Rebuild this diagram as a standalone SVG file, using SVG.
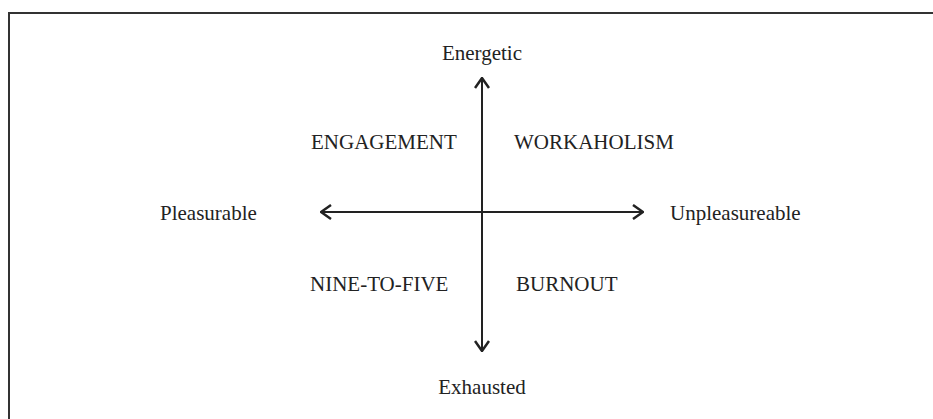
<svg xmlns="http://www.w3.org/2000/svg" width="933" height="419" viewBox="0 0 933 419">
<style>
text{font-family:"Liberation Serif","Times New Roman",serif;font-size:21px;fill:#222}
.ax{stroke:#222;stroke-width:2;fill:none}
.frame{stroke:#333;stroke-width:2;fill:none}
</style>
<defs>
<marker id="ah" viewBox="0 0 12 16" refX="11" refY="8" markerWidth="12" markerHeight="16" markerUnits="userSpaceOnUse" orient="auto-start-reverse">
<path d="M1,1 L11,8 L1,15" fill="none" stroke="#222" stroke-width="2.5"/>
</marker>
</defs>
<rect width="933" height="419" fill="#fff"/>
<path class="frame" d="M9,419 V13 H933"/>
<g id="connectors">
<line class="ax" x1="482" y1="351" x2="482" y2="78" marker-start="url(#ah)" marker-end="url(#ah)"/>
<line class="ax" x1="321" y1="212" x2="643" y2="212" marker-start="url(#ah)" marker-end="url(#ah)"/>
</g>
<g id="energetic"><text x="482" y="60" text-anchor="middle">Energetic</text></g>
<g id="exhausted"><text x="482" y="394" text-anchor="middle">Exhausted</text></g>
<g id="pleasurable"><text x="160" y="220">Pleasurable</text></g>
<g id="unpleasureable"><text x="670" y="220">Unpleasureable</text></g>
<g id="engagement"><text x="311" y="149">ENGAGEMENT</text></g>
<g id="workaholism"><text x="514" y="149">WORKAHOLISM</text></g>
<g id="ninetofive"><text x="310" y="291">NINE-TO-FIVE</text></g>
<g id="burnout"><text x="516" y="291">BURNOUT</text></g>
</svg>
